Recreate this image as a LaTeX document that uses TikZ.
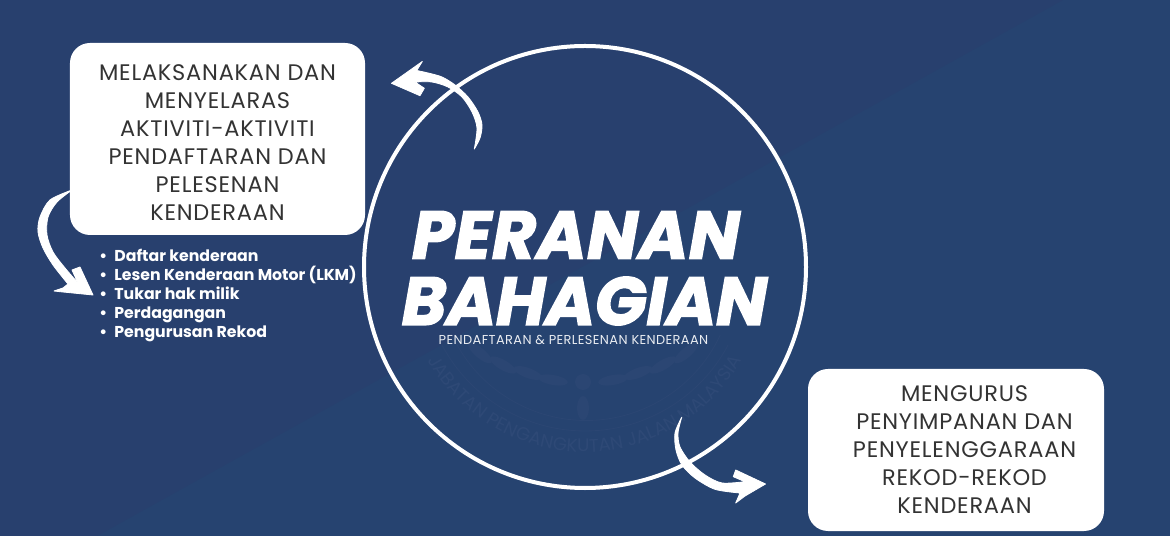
\documentclass[tikz,border=0pt]{standalone}
\usepackage{fontspec}
\setmainfont{Poppins}
\newfontfamily\titlefont[BoldItalicFeatures={FakeBold=2.4}]{Poppins}
\usetikzlibrary{decorations.text}

\definecolor{navy}{HTML}{264370}
\definecolor{navydark}{HTML}{28406E}
\definecolor{faint}{HTML}{2E4976}
\definecolor{faintleaf}{HTML}{2B4673}
\definecolor{boxtext}{HTML}{333333}

\tikzset{
    textbox/.style={fill=white, rounded corners=5mm, inner sep=0pt},
    boxlabel/.style={text=boxtext, align=center, inner sep=0pt,
        font=\fontsize{16}{19.9}\selectfont\addfontfeature{LetterSpace=3.5}},
    ring/.style={circle, draw=white, line width=1mm, minimum size=110.5mm, inner sep=0pt},
    title/.style={text=white, inner sep=0pt, font=\titlefont\fontsize{48}{50}\selectfont\bfseries\itshape},
    curvearrow/.style={fill=white, draw=white, line width=0.6pt, line join=round},
    leaf/.style={fill=faintleaf},
    rim/.style={draw=faintleaf, line width=0.6pt},
}

\begin{document}
\begin{tikzpicture}[x=0.25mm, y=-0.25mm]

        \useasboundingbox (0,0) rectangle (1170,536);
        \fill[navy] (0,0) rectangle (1170,536);
        \fill[navydark] (0,0) -- (1063,0) -- (97,536) -- (0,536) -- cycle;

        % emblem behind the title
        \path[decorate, decoration={text along path, text color=faint,
            text={|\fontsize{13}{13}\selectfont|JABATAN PENGANGKUTAN JALAN MALAYSIA}, text align=center}]
            (429,362) arc[start angle=210, end angle=330, radius=45mm];
        \draw[rim] (442,345) arc[start angle=208, end angle=332, radius=40.5mm];
        \draw[rim] (452,335) arc[start angle=205, end angle=335, radius=37mm];
        \foreach \dx/\dy/\r in {-30/-5/-10, -55/-12/-20, -80/-20/-30, -103/-32/-40, 30/-5/10, 55/-12/20, 80/-20/30, 103/-32/40} {
            \fill[leaf, rotate around={\r:(583+\dx,385+\dy)}] (583+\dx,385+\dy) ellipse (15 and 5);
        }
        \fill[leaf] (583,382) circle (8);
        \fill[leaf] (583,408) ellipse (6 and 12);

        \node[ring] (circle) at (585,267) {};

        \node[title, font=\titlefont\fontsize{48}{50}\selectfont\bfseries\itshape\addfontfeature{LetterSpace=1}] (peranan) at (576,235) {PERANAN};
        \node[title] (bahagian) at (584.5,301) {BAHAGIAN};
        \node[text=white!90!navy, inner sep=0pt, font=\fontsize{9.2}{10}\selectfont\addfontfeature{LetterSpace=3}] (subtitle) at (573.5,340) {PENDAFTARAN \& PERLESENAN KENDERAAN};

        % arrow out of the circle, to the left box
        \coordinate (tailtop) at (474.3,149);
        \coordinate (tiptop) at (391.5,83.3);
        \fill[curvearrow] plot[smooth] coordinates {(tailtop) (480,138) (482,125) (478,112) (468,97) (455,85) (442,77) (428,73) (416.7,70.5)}
            -- (422.3,61.5) -- (tiptop) -- (420,95.7) -- (424.3,88.3) -- (415,82)
            -- plot[smooth] coordinates {(415,82) (432,82) (448,87) (462,97) (472,112) (477,128) (tailtop)} -- cycle;

        % arrow from the left box to the list
        \coordinate (tailleft) at (72,190);
        \coordinate (tipleft) at (93,295);
        \fill[curvearrow] plot[smooth] coordinates {(tailleft) (50,200) (40,217) (38,232) (43,248) (53,265) (68,284)}
            -- (63,288) -- (54,291) -- (63,292) -- (tipleft) -- (80,267) -- (72,270) -- (78,283)
            -- plot[smooth] coordinates {(78,283) (65,268) (53,252) (47,235) (48,217) (57,202) (tailleft)} -- cycle;

        % arrow out of the circle, to the right box
        \coordinate (tailright) at (681.7,417.3);
        \coordinate (tipright) at (765.5,484);
        \fill[curvearrow] plot[smooth] coordinates {(tailright) (675,433) (676,450) (682,465) (695,478) (715,489.3) (740,493)}
            -- (735.7,503) -- (745,496) -- (tipright) -- (735.7,470) -- (733.3,476.7) -- (745,481.7)
            -- plot[smooth] coordinates {(745,481.7) (722,483) (705,475) (690,462) (680,447) (678,433) (tailright)} -- cycle;

        \node[textbox, minimum width=73.75mm, minimum height=48mm] (leftbox) at (217.5,139) {};
        \node[boxlabel] (lefttext) at (217.5,143)
            {MELAKSANAKAN DAN\\MENYELARAS\\AKTIVITI-AKTIVITI\\PENDAFTARAN DAN\\PELESENAN\\KENDERAAN};
        \node[textbox, minimum width=74mm, minimum height=40.5mm] (rightbox) at (956,450) {};
        \node[boxlabel] (righttext) at (964.5,450)
            {MENGURUS\\PENYIMPANAN DAN\\PENYELENGGARAAN\\REKOD-REKOD\\KENDERAAN};

        \node[text=white, align=left, anchor=north west, inner sep=0pt,
            font=\fontsize{11.2}{13.5}\selectfont\bfseries] (tasks) at (99,249)
            {\textbullet\hspace{1.8mm}Daftar kenderaan\\
             \textbullet\hspace{1.8mm}Lesen Kenderaan Motor (LKM)\\
             \textbullet\hspace{1.8mm}Tukar hak milik\\
             \textbullet\hspace{1.8mm}Perdagangan\\
             \textbullet\hspace{1.8mm}Pengurusan Rekod};

\end{tikzpicture}
\end{document}
